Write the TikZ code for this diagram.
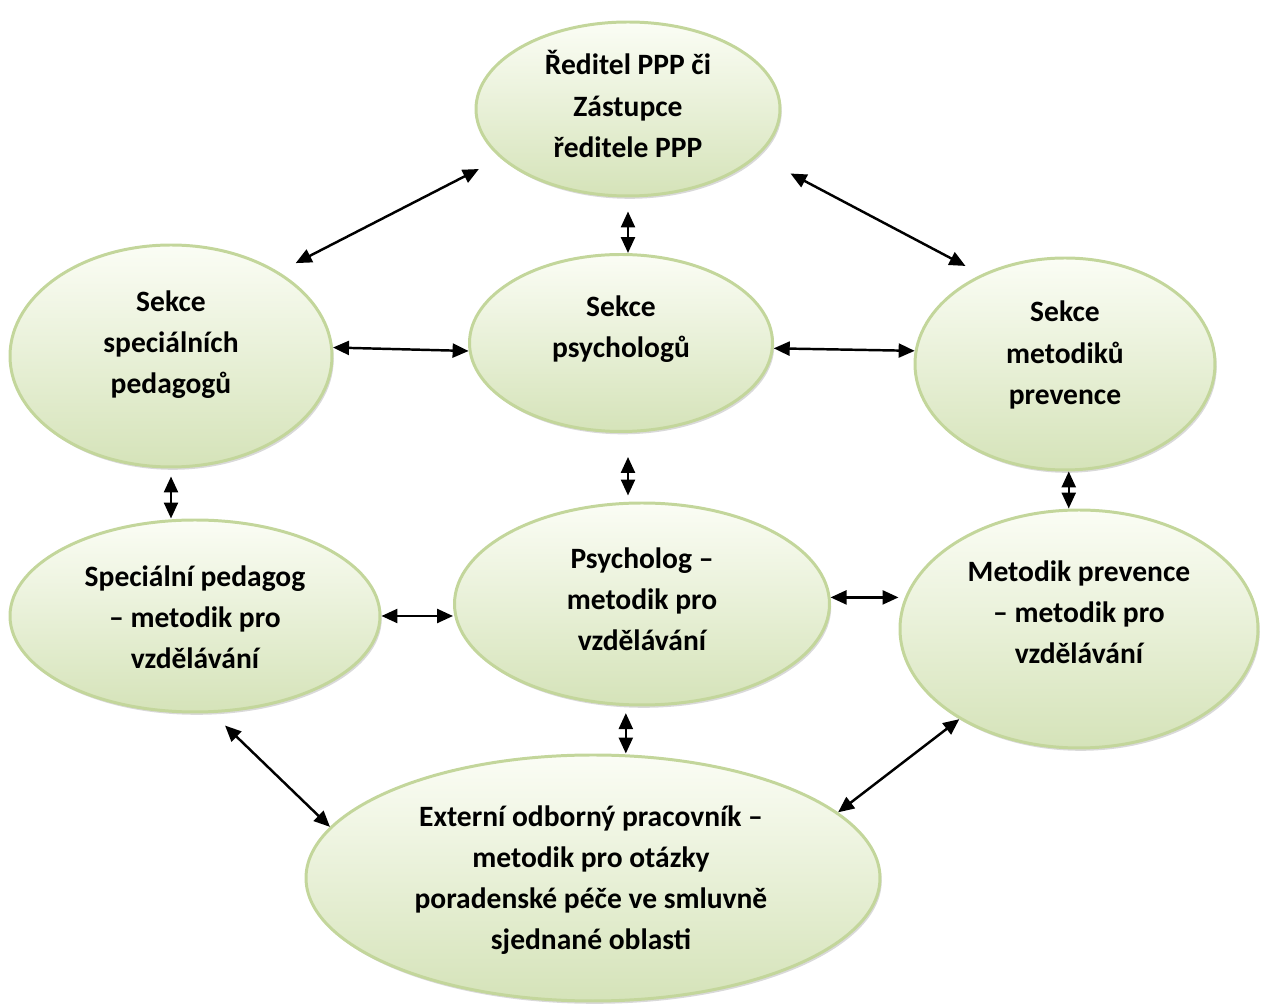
\documentclass[tikz,border=0pt]{standalone}
\usepackage{fontspec}
\setmainfont{Carlito}
\usepackage{tikz}
\usetikzlibrary{arrows.meta,positioning,calc,shapes.geometric,shadows}
\definecolor{ovltop}{HTML}{FBFDF5}
\definecolor{ovlbot}{HTML}{D5E3B9}
\definecolor{ovledge}{HTML}{C3D69B}
\tikzset{
  oval/.style={ellipse, draw=ovledge, line width=0.85pt, top color=ovltop, bottom color=ovlbot,
    inner sep=0pt,
    drop shadow={shadow xshift=0.5pt, shadow yshift=-0.8pt, opacity=0.25, fill=black!60}},
  ovaltext/.style={align=center, inner sep=0pt, font=\fontsize{8.4}{11.7}\selectfont\bfseries},
  link/.style={{Triangle[length=1.6mm,width=1.4mm]}-{Triangle[length=1.6mm,width=1.4mm]}, line width=0.7pt, black}
}
\begin{document}
\begin{tikzpicture}[x=0.1mm,y=-0.1mm]
\useasboundingbox (0,0) rectangle (1265,1004);

% ovals
\node[oval, minimum width=30.4mm, minimum height=17.4mm] (top) at (628,109) {};
\node[oval, minimum width=32.2mm, minimum height=22.2mm] (ssp) at (171,356) {};
\node[oval, minimum width=30.3mm, minimum height=17.7mm] (spsy) at (621,343) {};
\node[oval, minimum width=30mm, minimum height=21.2mm] (smp) at (1065,364) {};
\node[oval, minimum width=37mm, minimum height=19.2mm] (sped) at (195,616) {};
\node[oval, minimum width=37.5mm, minimum height=20.2mm] (psy) at (642,604) {};
\node[oval, minimum width=35.8mm, minimum height=23.8mm] (mpv) at (1079,629) {};
\node[oval, minimum width=57.4mm, minimum height=24.6mm] (ext) at (593,878) {};

% texts
\node[ovaltext] (top-t) at (628,104) {Ředitel PPP či\\Zástupce\\ředitele PPP};
\node[ovaltext] (ssp-t) at (171,345) {Sekce\\speciálních\\pedagogů};
\node[ovaltext] (spsy-t) at (621,329) {Sekce\\psychologů};
\node[ovaltext] (smp-t) at (1065,355) {Sekce\\metodiků\\prevence};
\node[ovaltext] (sped-t) at (195,617) {Speciální pedagog\\– metodik pro\\vzdělávání};
\node[ovaltext] (psy-t) at (642,599) {Psycholog –\\metodik pro\\vzdělávání};
\node[ovaltext] (mpv-t) at (1079,612) {Metodik prevence\\– metodik pro\\vzdělávání};
\node[ovaltext] (ext-t) at (591,880) {Externí odborný pracovník –\\metodik pro otázky\\poradenské péče ve smluvně\\sjednané oblasti};

% links
\draw[link, shorten <=2.4mm, shorten >=1.9mm] (top.201.7) -- (ssp.38.4);
\draw[link, shorten <=3.7mm, shorten >=1.8mm] (top.340) -- (smp.133.9);
\draw[link, shorten <=1.4mm] (top.south) -- (top.south |- spsy.north);
\draw[link] (ssp.3) -- (spsy.183);
\draw[link] (spsy.-2) -- (smp.175);
\draw[link, shorten <=0.8mm] (ssp.south) -- (ssp.south |- sped.north);
\draw[link, shorten <=2.4mm, shorten >=0.6mm] (spsy.south -| top.south) -- (top.south |- psy.north);
\draw[link] (smp.272) -- (smp.272 |- mpv.north);
\draw[link] (sped.east) -- (sped.east -| psy.west);
\draw[link] (psy.2) -- (psy.2 -| mpv.west);
\draw[link, shorten <=1.8mm] (sped.280) -- (ext.169);
\draw[link, shorten <=0.7mm] (psy.261) -- (psy.261 |- ext.north);
\draw[link] (mpv.217) -- (ext.15);
\end{tikzpicture}
\end{document}
